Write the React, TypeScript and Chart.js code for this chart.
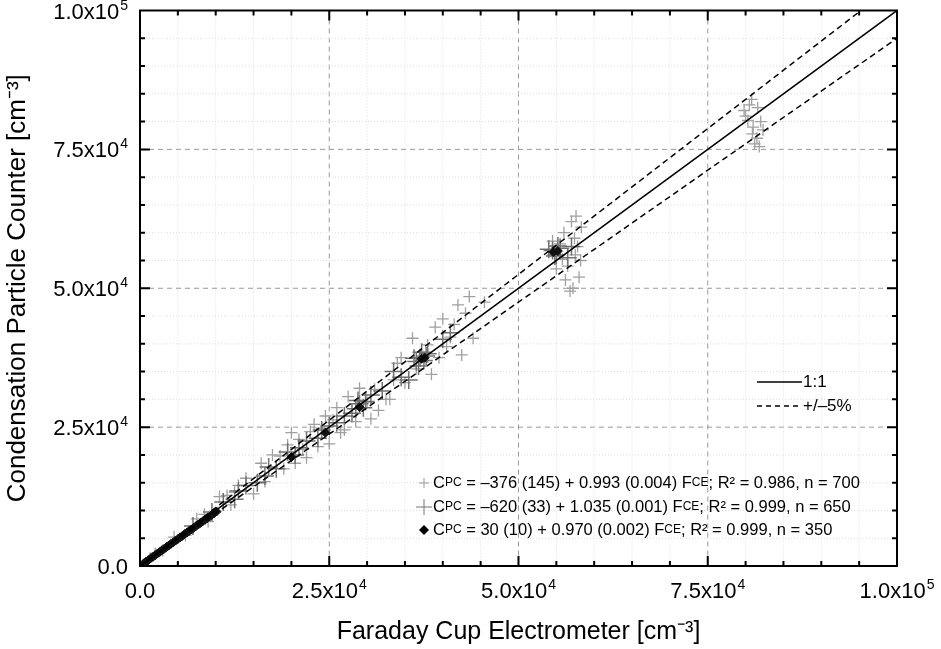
import React, { useEffect, useRef } from "react";
import { Chart, registerables } from "chart.js";
Chart.register(...registerables);

const tickValues = [0, 25000, 50000, 75000, 100000];
const tickMain = ["0.0", "2.5x10", "5.0x10", "7.5x10", "1.0x10"];
const tickSup = ["", "4", "4", "4", "5"];

const series1: [number, number][] = [
  [80000,81000],[80500,83000],[81000,79000],[81500,77000],[82000,80000],[80800,84000],[81200,76000],[79800,82000],[82300,78500],[81800,75500],[80300,80200],[81600,82500],[80900,77800],
  [56000,60000],[57000,62000],[57500,56000],[58000,52000],[57200,50000],[56500,54000],[55500,58000],[58300,61000],[57800,57500],[56800,49500],[54500,58500],[55000,53500],[57600,63000],[58200,55000],[56200,51500],[57400,59000],[55800,55200],
  [42000,47000],[43000,45500],[41500,43500],[40500,39500],[44000,41000],[42500,38000],[39000,43000],[36000,41000],[38500,34500],[35000,33000],[43500,48500],[40000,44500],[41000,41200],[39500,37500],[38000,39800],[36500,35500],[34500,37500],
  [29000,32000],[30500,26500],[27500,30500],[26000,28500],[31500,28000],[25000,22000],[24500,27000],[23000,25500],[22000,19500],[20000,24000],[30000,29500],[31000,31800],[28500,26000],[32500,30000],[33500,33500],[26500,24000],
  [21500,21000],[19000,17500],[17500,20000],[16000,18500],[15000,13000],[13000,14500],[12000,11000],[10500,12500],[9000,8000],[7500,8500],[23500,21500],[24000,24800],[21000,22800],[18500,19800],[20500,18500],
  [6000,5500],[4500,5200],[3000,2800],[2000,2300],[33000,30000],[34000,36500],[45500,47500],[27000,24500],[14000,15800],[16500,15200],[11500,12700],[8500,9300],[12500,13300],[19500,21800],[22500,24200],[25500,26300]
];
const series2: [number, number][] = [
  [37000,37500],[37500,37000],[36500,36800],[38000,38200],[37200,38500],[36800,36000],[37800,37800],[36200,37400],
  [54500,56800],[55000,56000],[54000,57000],[55500,57200],[57000,57500],[56500,55500],[55200,57600],[54800,55800],
  [28500,28300],[29000,29200],[28000,27500],[29500,28500],[27000,27000],[28800,29800],[29800,29600],
  [24000,24500],[23500,23000],[22000,22500],[20500,20000],[19500,20500],[18000,17500],[17000,17800],
  [15500,15000],[14000,14500],[12500,12000],[11000,11500],[32000,31500],[33500,35000],[35500,33500],[26000,25800],[40000,40800],[41000,42000],
  [25000,25200],[21000,21300],[16500,16200],[13000,13500],[9500,9700],[7000,7200],[30500,30800],[34500,34000]
];
const series3: [number, number][] = [
  [500,480],[800,790],[1100,1050],[1400,1380],[1700,1640],[2000,1950],[2300,2250],[2600,2500],[2900,2830],[3200,3100],
  [3500,3420],[3800,3680],[4100,4000],[4400,4260],[4700,4580],[5000,4850],[5300,5150],[5600,5420],[5900,5750],[6200,6000],
  [6500,6330],[6800,6580],[7100,6900],[7400,7180],[7700,7480],[8000,7750],[8300,8060],[8600,8330],[8900,8640],[9200,8900],
  [9500,9230],[9800,9500],[10100,9800],[37200,37300],[37600,37500],[54600,56500],[55200,56700],[29000,28600],[24500,24000],[20000,19600]
];
const lineOne: [number, number][] = [[0, 0], [100000, 100000]];
const lineUp: [number, number][] = [[0, 0], [100000, 105000]];
const lineLow: [number, number][] = [[0, 0], [100000, 95000]];

const eqs = [
  ["–376 (145) + 0.993 (0.004) ", "; R² = 0.986, n = 700"],
  ["–620 (33) + 1.035 (0.001) ", "; R² = 0.999, n = 650"],
  ["30 (10) + 0.970 (0.002) ", "; R² = 0.999, n = 350"],
];
const FF = "'Liberation Sans', Arial, sans-serif";

const toXY = (a: [number, number][]) => a.map(([x, y]) => ({ x, y }));

const deco = {
  id: "deco",
  beforeDatasetsDraw(c: any) {
    const { ctx, chartArea: a, scales } = c;
    ctx.save();
    ctx.lineWidth = 1;
    for (let v = 5000; v < 100000; v += 5000) {
      const major = v % 25000 === 0;
      ctx.strokeStyle = major ? "#999" : "#ddd";
      ctx.setLineDash(major ? [5, 4] : [1, 2]);
      const px = scales.x.getPixelForValue(v);
      const py = scales.y.getPixelForValue(v);
      ctx.beginPath(); ctx.moveTo(px, a.top); ctx.lineTo(px, a.bottom); ctx.stroke();
      ctx.beginPath(); ctx.moveTo(a.left, py); ctx.lineTo(a.right, py); ctx.stroke();
    }
    ctx.restore();
  },
  afterDraw(c: any) {
    const { ctx, chartArea: a, scales } = c;
    ctx.save();
    ctx.strokeStyle = "#000";
    ctx.lineWidth = 2;
    ctx.setLineDash([]);
    ctx.strokeRect(a.left, a.top, a.right - a.left, a.bottom - a.top);
    for (let v = 5000; v < 100000; v += 5000) {
      const L = v % 25000 === 0 ? 10 : 5;
      const px = scales.x.getPixelForValue(v);
      const py = scales.y.getPixelForValue(v);
      ctx.beginPath();
      ctx.moveTo(px, a.bottom); ctx.lineTo(px, a.bottom - L);
      ctx.moveTo(px, a.top); ctx.lineTo(px, a.top + L);
      ctx.moveTo(a.left, py); ctx.lineTo(a.left + L, py);
      ctx.moveTo(a.right, py); ctx.lineTo(a.right - L, py);
      ctx.stroke();
    }
    ctx.fillStyle = "#000";
    ctx.textBaseline = "alphabetic";
    const mainF = `22px ${FF}`, supF = `14px ${FF}`;
    const lbl = (i: number) => {
      ctx.font = mainF; const w1 = ctx.measureText(tickMain[i]).width;
      ctx.font = supF; const w2 = tickSup[i] ? ctx.measureText(tickSup[i]).width + 1 : 0;
      return [w1, w2];
    };
    const draw = (i: number, x: number, base: number) => {
      const [w1] = lbl(i);
      ctx.font = mainF; ctx.fillText(tickMain[i], x, base);
      if (tickSup[i]) { ctx.font = supF; ctx.fillText(tickSup[i], x + w1 + 1, base - 9); }
    };
    tickValues.forEach((v, i) => {
      const [w1, w2] = lbl(i);
      const py = scales.y.getPixelForValue(v);
      draw(i, 128 - w1 - w2, py + 8);
      const px = scales.x.getPixelForValue(v);
      draw(i, px - (w1 + w2) / 2, 598);
    });
    ctx.lineWidth = 1.5;
    ctx.font = `17px ${FF}`;
    ctx.textBaseline = "middle";
    ctx.beginPath(); ctx.moveTo(757, 382); ctx.lineTo(802, 382); ctx.stroke();
    ctx.fillText("1:1", 803, 382);
    ctx.setLineDash([5, 4]);
    ctx.beginPath(); ctx.moveTo(757, 406); ctx.lineTo(802, 406); ctx.stroke();
    ctx.setLineDash([]);
    ctx.fillText("+/–5%", 803, 406);
    const rows = [483, 507, 530];
    rows.forEach((y, i) => {
      ctx.strokeStyle = i === 0 ? "#999" : "#777";
      ctx.fillStyle = "#000";
      ctx.lineWidth = 1;
      const s = i === 0 ? 5 : 8;
      if (i < 2) {
        ctx.beginPath(); ctx.moveTo(424 - s, y); ctx.lineTo(424 + s, y); ctx.moveTo(424, y - s); ctx.lineTo(424, y + s); ctx.stroke();
      } else {
        ctx.beginPath(); ctx.moveTo(424, y - 5); ctx.lineTo(429, y); ctx.lineTo(424, y + 5); ctx.lineTo(419, y); ctx.closePath(); ctx.fill();
      }
      let x = 433;
      const seg = (t: string, sz: number) => { ctx.font = `${sz}px ${FF}`; ctx.fillText(t, x, y); x += ctx.measureText(t).width; };
      seg("C", 16.5); seg("PC", 12); seg(" = " + eqs[i][0], 16.5); seg("F", 16.5); seg("CE", 12); seg(eqs[i][1], 16.5);
    });
    ctx.restore();
  },
};

export default function App() {
  const ref = useRef<HTMLCanvasElement>(null);
  useEffect(() => {
    const lineDs = (d: [number, number][], dash: number[]) => ({
      type: "line" as const, data: toXY(d), borderColor: "#000", borderWidth: 1.5, borderDash: dash,
      pointRadius: 0, fill: false, order: 0,
    });
    const chart = new Chart(ref.current!, {
      type: "scatter",
      data: {
        datasets: [
          { data: toXY(series1), pointStyle: "cross", pointRadius: 6, borderColor: "#a0a0a0", borderWidth: 1.3, order: 3 } as any,
          { data: toXY(series2), pointStyle: "cross", pointRadius: 9, borderColor: "#707070", borderWidth: 1.5, order: 2 } as any,
          { data: toXY(series3), pointStyle: "rectRot", pointRadius: 4.5, backgroundColor: "#111", borderColor: "#111", borderWidth: 1, order: 1 } as any,
          lineDs(lineOne, []) as any,
          lineDs(lineUp, [6, 4]) as any,
          lineDs(lineLow, [6, 4]) as any,
        ],
      },
      options: {
        animation: false,
        responsive: false,
        layout: { padding: { top: 2, right: 44, left: 0, bottom: 0 } },
        plugins: { legend: { display: false }, tooltip: { enabled: false } },
        scales: {
          x: {
            type: "linear", min: 0, max: 100000,
            grid: { display: false }, border: { display: false },
            ticks: { display: false },
            title: { display: true, text: "Faraday Cup Electrometer [cm⁻³]", color: "#000", font: { family: FF, size: 25 }, padding: { top: 0, bottom: 2 } },
            afterFit: (s: any) => { s.height = 83; },
          },
          y: {
            type: "linear", min: 0, max: 100000,
            grid: { display: false }, border: { display: false },
            ticks: { display: false },
            title: { display: true, text: "Condensation Particle Counter [cm⁻³]", color: "#000", font: { family: FF, size: 26 }, padding: { top: 2 } },
            afterFit: (s: any) => { s.width = 140; },
          },
        },
      },
      plugins: [deco],
    });
    return () => chart.destroy();
  }, []);
  return (
    <div style={{ position: "absolute", left: 0, top: 0, width: 941, height: 649, background: "#fff" }}>
      <canvas ref={ref} width={941} height={649} />
    </div>
  );
}
